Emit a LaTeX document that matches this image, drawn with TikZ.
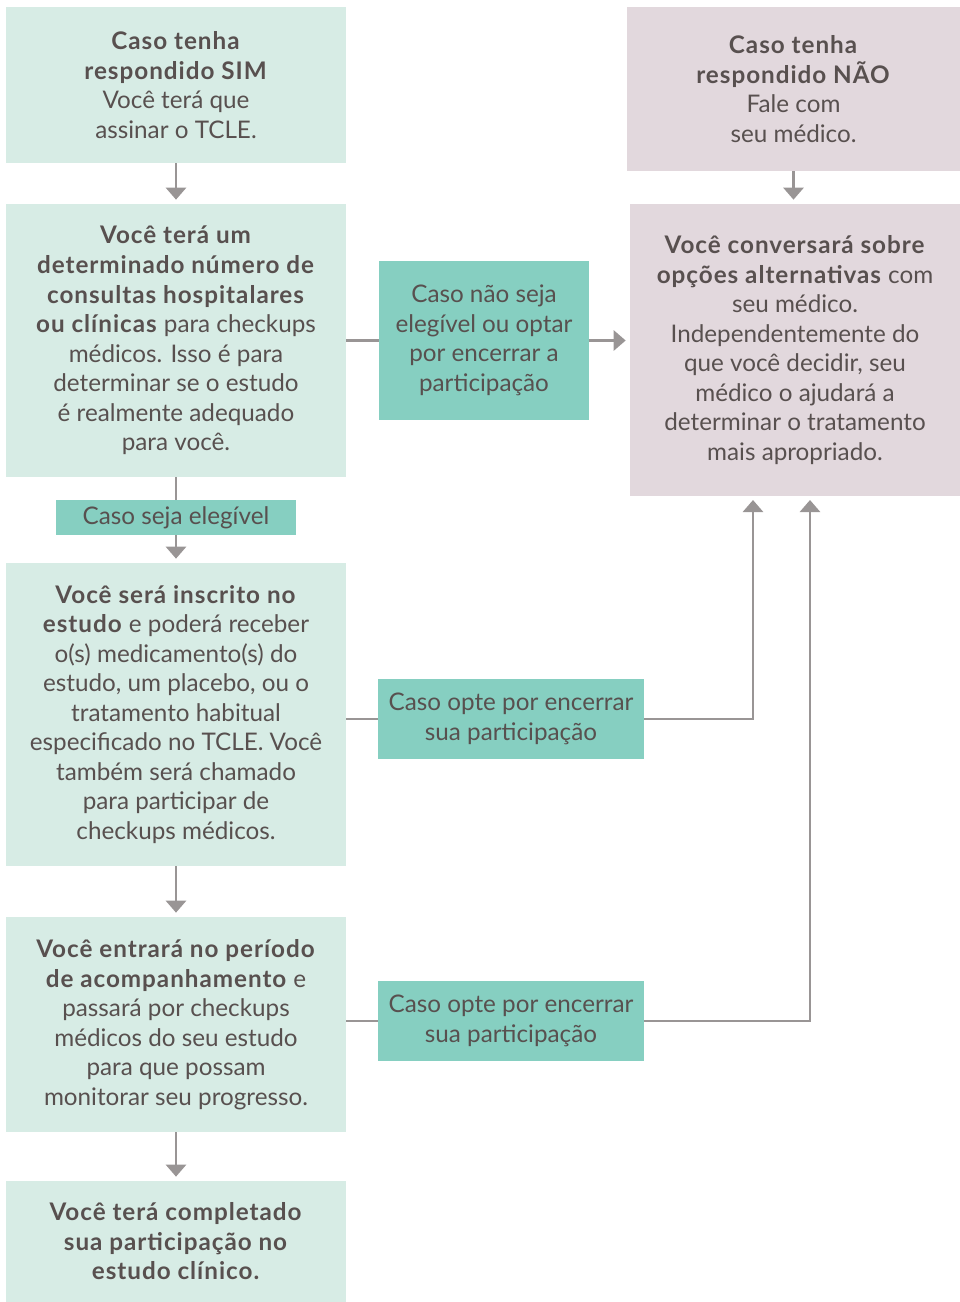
\documentclass[tikz,border=0pt]{standalone}
\usepackage{fontspec}
\setmainfont{Lato}[BoldFeatures={LetterSpace=4}]
\usetikzlibrary{arrows.meta,positioning}

\definecolor{mint}{HTML}{D7ECE5}
\definecolor{teal}{HTML}{86CFC1}
\definecolor{mauve}{HTML}{E2D8DD}
\definecolor{ink}{HTML}{58504F}
\definecolor{wire}{HTML}{999595}

\begin{document}
\begin{tikzpicture}[x=0.02cm,y=-0.02cm,>={Triangle[width=0.4cm,length=0.24cm]},
    font=\fontsize{13.8}{16.8}\selectfont,text=ink,
    box/.style={fill=mint,align=center,inner sep=0pt,minimum width=6.8cm},
    nobox/.style={fill=mauve,align=center,inner sep=0pt},
    tag/.style={fill=teal,align=center,inner sep=0pt},
    wire/.style={draw=wire,line width=1.6pt},
    flow/.style={wire,->,shorten >=0.08cm}]

    \useasboundingbox (0,0) rectangle (960,1302);

    \node[box,minimum height=3.12cm] (sim) at (176,85) {\textbf{Caso tenha}\\\textbf{respondido SIM}\\Você terá que\\assinar o TCLE.};

    \node[nobox,minimum width=6.66cm,minimum height=3.28cm] (nao) at (793.5,89) {\textbf{Caso tenha}\\\textbf{respondido NÃO}\\Fale com\\seu médico.};

    \node[box,minimum height=5.46cm] (cons) at (176,340.5) {\textbf{Você terá um}\\\textbf{determinado número de}\\\textbf{consultas hospitalares}\\\textbf{ou clínicas} para checkups\\médicos. Isso é para\\determinar se o estudo\\é realmente adequado\\para você.};

    \node[nobox,minimum width=6.6cm,minimum height=5.84cm] (alt) at (795,350) {\textbf{Você conversará sobre}\\\textbf{opções alternativas} com\\seu médico.\\Independentemente do\\que você decidir, seu\\médico o ajudará a\\determinar o tratamento\\mais apropriado.};

    \node[tag,minimum width=4.2cm,minimum height=3.18cm] (nelig) at (484,340.5) {Caso não seja\\elegível ou optar\\por encerrar a\\participação};

    \node[tag,minimum width=4.8cm,minimum height=0.7cm] (elig) at (176,517.5) {Caso seja elegível};

    \node[box,minimum height=6.06cm] (insc) at (176,714.5) {\textbf{Você será inscrito no}\\\textbf{estudo} e poderá receber\\o(s) medicamento(s) do\\estudo, um placebo, ou o\\tratamento habitual\\especificado no TCLE. Você\\também será chamado\\para participar de\\checkups médicos.};

    \node[tag,minimum width=5.32cm,minimum height=1.6cm] (opt1) at (511,719) {Caso opte por encerrar\\sua participação};

    \node[box,minimum height=4.3cm] (acomp) at (176,1024.5) {\textbf{Você entrará no período}\\\textbf{de acompanhamento} e\\passará por checkups\\médicos do seu estudo\\para que possam\\monitorar seu progresso.};

    \node[tag,minimum width=5.32cm,minimum height=1.6cm] (opt2) at (511,1021) {Caso opte por encerrar\\sua participação};

    \node[box,minimum height=2.42cm] (fim) at (176,1241.5) {\textbf{Você terá completado}\\\textbf{sua participação no}\\\textbf{estudo clínico.}};

    \coordinate (up1) at (753,496);
    \coordinate (up2) at (810,496);

    % left column
    \draw[flow] (sim) -- (cons);
    \draw[wire] (cons) -- (elig);
    \draw[flow] (elig) -- (insc);
    \draw[flow] (insc) -- (acomp);
    \draw[flow] (acomp) -- (fim);

    % right column
    \draw[flow] (nao) -- (nao |- alt.north);
    \draw[wire] (cons.east |- nelig.west) -- (nelig.west);
    \draw[flow] (nelig.east) -- (nelig.east -| alt.west);
    \draw[wire] (insc.east |- opt1.west) -- (opt1.west);
    \draw[flow] (opt1.east) -| (up1);
    \draw[wire] (acomp.east |- opt2.west) -- (opt2.west);
    \draw[flow] (opt2.east) -| (up2);

\end{tikzpicture}
\end{document}
